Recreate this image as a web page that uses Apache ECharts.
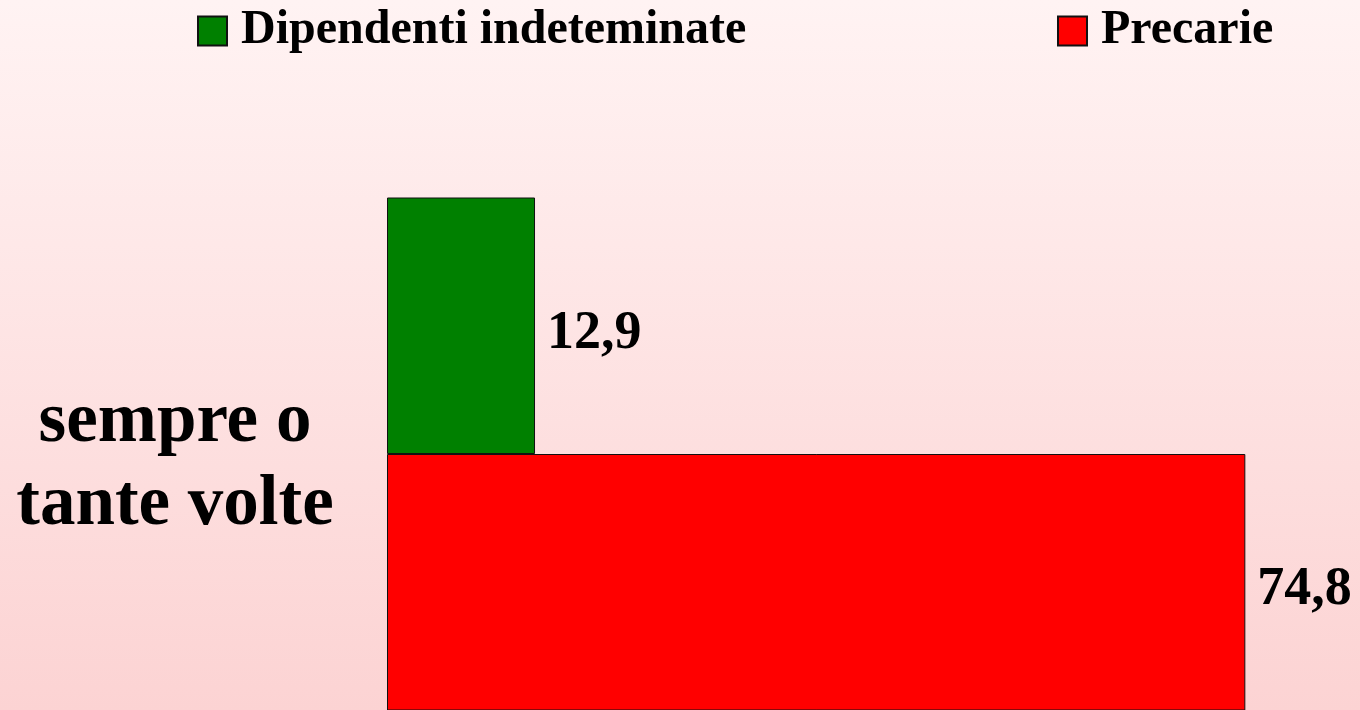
<!DOCTYPE html>
<html>
<head>
<meta charset="utf-8">
<title>sempre o tante volte</title>
<script src="https://cdn.jsdelivr.net/npm/echarts@6/dist/echarts.min.js"></script>
<style>
    html, body { margin: 0; padding: 0; }
    #main { width: 1360px; height: 710px; }
</style>
</head>
<body>
<div id="main"></div>
<script>
//数据
var categories = ["sempre o\ntante volte"];
var seriesNames = ["Dipendenti indeteminate", "Precarie"];
var dipendenti = [12.9];
var precarie = [74.8];

var font = "Liberation Serif";

function fmt(p) {
    return String(p.value).replace(".", ",");
}

var myChart = echarts.init(document.getElementById("main"));

var legendText = { fontFamily: font, fontWeight: "bold", fontSize: 48, color: "#000", padding: [8, 0, 0, 9] };

myChart.setOption({
    animation: false,
    backgroundColor: {
        type: "linear", x: 0, y: 0, x2: 0, y2: 1,
        colorStops: [
            { offset: 0, color: "#fff3f3" },
            { offset: 1, color: "#fcd3d3" }
        ]
    },
    legend: [
        {
            data: [seriesNames[0]],
            left: 192,
            top: 2,
            itemWidth: 29,
            itemHeight: 29,
            icon: "rect",
            textStyle: legendText
        },
        {
            data: [seriesNames[1]],
            left: 1052,
            top: 2,
            itemWidth: 29,
            itemHeight: 29,
            icon: "rect",
            textStyle: legendText
        }
    ],
    grid: {
        left: 387,
        top: 198,
        width: 918,
        height: 518,
        containLabel: false
    },
    xAxis: {
        type: "value",
        min: 0,
        max: 80,
        show: false
    },
    yAxis: {
        type: "category",
        data: categories,
        axisLine: { show: false },
        axisTick: { show: false },
        axisLabel: {
            margin: 212,
            align: "center",
            fontFamily: font,
            fontWeight: "bold",
            fontSize: 71,
            lineHeight: 83,
            color: "#000",
            // 上面加一行空白, 把文字往下挪
            formatter: function (v) { return "{s| }\n" + v; },
            rich: { s: { lineHeight: 20, fontSize: 10 } }
        }
    },
    series: [
        {
            name: seriesNames[0],
            type: "bar",
            data: dipendenti,
            barWidth: 259,
            barGap: "0%",
            itemStyle: { color: "#008000", borderColor: "#111", borderWidth: 1 },
            label: {
                show: true, position: "right", distance: 12, offset: [0, 8], formatter: fmt,
                fontFamily: font, fontWeight: "bold", fontSize: 54, color: "#000"
            }
        },
        {
            name: seriesNames[1],
            type: "bar",
            data: precarie,
            barWidth: 259,
            barGap: "0%",
            itemStyle: { color: "#ff0000", borderColor: "#111", borderWidth: 1 },
            label: {
                show: true, position: "right", distance: 12, offset: [0, 8], formatter: fmt,
                fontFamily: font, fontWeight: "bold", fontSize: 54, color: "#000"
            }
        }
    ]
});
</script>
</body>
</html>
